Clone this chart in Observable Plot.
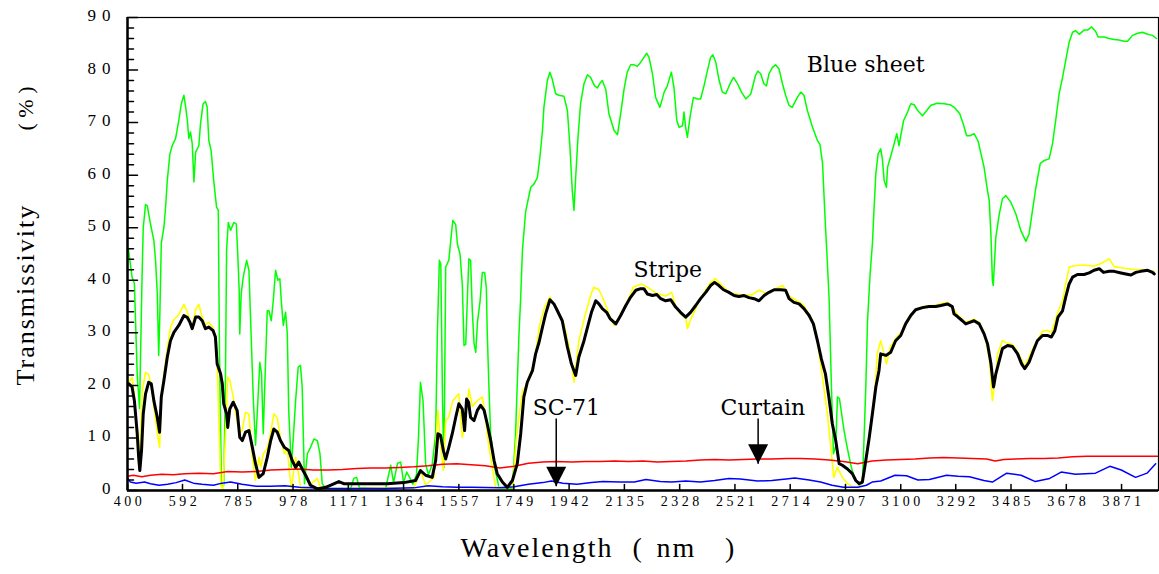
<!DOCTYPE html>
<html><head><meta charset="utf-8">
<script src="https://cdn.jsdelivr.net/npm/d3@7"></script>
<script src="https://cdn.jsdelivr.net/npm/@observablehq/plot@0.6"></script>
<style>body{margin:0;background:#fff} svg{display:block}</style>
</head><body><div id="chart"></div>
<script>
// ---- tick labels ----
const xTicks = [400,592,785,978,1171,1364,1557,1749,1942,2135,2328,2521,2714,2907,3100,3292,3485,3678,3871];
const yMajor = [0,10,20,30,40,50,60,70,80,90];
const yMinor = [2,4,6,8,12,14,16,18,22,24,26,28,32,34,36,38,42,44,46,48,52,54,56,58,62,64,66,68,72,74,76,78,82,84,86,88];

// ---- series: [wavelength nm, transmissivity %] ----
const blueSheet = [[403,46],[416,40.6],[424,39.4],[434,22],[442,15.6],[451,41],[455,50],[463,54.4],[469,54.2],[480,50.8],[492,47.6],[498,43.8],[504,37.5],[509,25.7],[513,33.7],[518,47],[527,50],[533,53.9],[539,59],[548,64],[556,65.6],[568,67],[579,70.4],[588,73.6],[597,75.2],[603,73],[609,70.4],[614,67],[620,68.2],[626,66],[632,58.7],[638,64.4],[649,65.6],[655,69.8],[664,73.6],[672,74],[678,73],[684,66.6],[692,64.7],[701,59],[711,53.9],[717,53.3],[721,27.3],[728,1],[736,1],[742,21],[746,45.7],[752,51],[760,49.5],[771,51],[780,50.7],[785,45],[790,38],[792,29.8],[797,37.4],[804,40.6],[816,43.8],[824,41.9],[830,32.3],[839,17.8],[847,8.6],[853,14.6],[862,24.4],[868,22.2],[874,10.8],[880,21],[888,34.2],[894,34.2],[902,32.3],[909,36.1],[917,41.9],[925,40],[932,40.3],[937,36.1],[944,31.4],[952,33.9],[958,29.8],[963,15.2],[972,4.4],[979,10.1],[987,17.1],[996,23.5],[1004,23.8],[1010,19.7],[1018,1.3],[1028,7],[1039,8.2],[1051,9.8],[1063,9.5],[1072,7],[1080,1.3],[1092,0.3],[1179,0.3],[1190,2.3],[1200,2.5],[1210,0.5],[1301,0.3],[1319,4.8],[1329,1.5],[1343,5.2],[1354,5.4],[1364,1.5],[1375,3.5],[1385,2.5],[1396,1.2],[1409,3],[1416,10],[1423,20.6],[1432,17],[1441,5],[1451,3],[1464,5],[1476,10.8],[1482,29.8],[1489,43.8],[1494,43],[1500,17],[1505,4.4],[1511,42.5],[1522,43.8],[1531,48.8],[1536,51.4],[1546,50.6],[1552,46.9],[1561,45],[1569,39.3],[1575,27.6],[1581,27.8],[1587,37],[1592,44.1],[1598,43.8],[1604,34.2],[1610,28],[1616,26.3],[1622,32],[1631,36],[1639,41.5],[1647,41.5],[1653,38.5],[1656,30.4],[1662,19.7],[1668,10.8],[1680,5],[1697,0.6],[1744,0.3],[1755,10.8],[1767,29.8],[1773,36.8],[1779,45.7],[1790,53],[1808,57.7],[1819,58.3],[1831,59.5],[1840,63.4],[1849,68.5],[1854,72.9],[1866,78],[1875,79.6],[1883,78.3],[1895,75.5],[1906,75.2],[1924,75],[1936,72.3],[1945,65.3],[1953,57.1],[1959,53.3],[1965,59.6],[1973,67.2],[1982,73.6],[1994,77.4],[2006,79.1],[2017,78.6],[2031,77],[2041,76.6],[2050,77.5],[2058,78],[2070,76.3],[2081,71.7],[2099,68.5],[2111,67.7],[2122,71.7],[2134,76.4],[2145,79.6],[2157,81],[2169,81],[2180,80.7],[2192,81.5],[2213,83.2],[2221,82.4],[2233,79.3],[2244,74.8],[2259,72.9],[2274,75.8],[2285,77],[2299,79.6],[2308,76.7],[2318,70.4],[2326,69.1],[2338,69.4],[2343,72],[2349,69.1],[2355,67.2],[2364,71],[2376,74.8],[2390,74.5],[2401,74.5],[2413,77],[2425,79.9],[2436,82.4],[2444,82.9],[2454,81.5],[2466,78],[2477,75.8],[2489,75.5],[2504,77.4],[2516,78.6],[2530,77.4],[2544,75.8],[2559,74.5],[2576,75.4],[2593,79],[2601,79.8],[2611,79.3],[2622,77.4],[2631,77],[2640,79.3],[2652,80.5],[2663,81],[2675,80.2],[2687,77.4],[2698,75.2],[2710,73.3],[2721,72.9],[2739,74.8],[2751,75.8],[2762,75.2],[2774,72.3],[2792,69.1],[2809,66.6],[2818,65.8],[2827,62.2],[2835,52.6],[2844,43.1],[2850,36.1],[2858,19.7],[2865,7],[2873,8.5],[2879,17.8],[2886,17.5],[2892,15.2],[2902,11.4],[2913,8.2],[2925,5],[2937,2.5],[2955,1],[2966,1.5],[2972,10.1],[2978,19.7],[2984,32.3],[2993,41.2],[3001,46.9],[3007,53.9],[3013,60.3],[3021,64.1],[3030,65],[3036,63],[3042,59],[3050,57.7],[3054,61.5],[3064,63.4],[3077,66],[3086,67.9],[3094,65.6],[3100,67.5],[3110,70.4],[3124,72],[3135,73.6],[3147,73.4],[3159,72.3],[3176,71.3],[3188,72.1],[3205,73.3],[3228,73.7],[3252,73.6],[3272,73.4],[3289,72.8],[3306,71.7],[3318,69.8],[3330,67.5],[3341,67.5],[3356,67.9],[3370,66.5],[3380,64.1],[3391,61.5],[3403,57],[3409,55.2],[3415,48.5],[3420,40],[3423,39],[3432,48.2],[3444,52.6],[3455,55.5],[3467,56.1],[3484,54.9],[3502,52.6],[3519,49.5],[3537,47.4],[3548,48.8],[3560,53.3],[3572,57.7],[3587,62.2],[3601,62.8],[3618,63.1],[3630,66],[3641,70.4],[3653,75.5],[3665,78.6],[3676,81.8],[3688,85.3],[3700,87.2],[3711,87.5],[3723,86.8],[3740,87.6],[3752,87.6],[3767,88.2],[3781,87.3],[3789,86.3],[3810,86.3],[3828,86],[3845,85.8],[3862,85.7],[3880,85.5],[3892,85.5],[3909,86.6],[3927,87],[3944,87.2],[3962,86.8],[3979,86.6],[3993,86]];

const stripeRaw = [[403,20.5],[416,21.5],[424,18],[434,9],[440,4.5],[445,10],[452,19],[463,22.5],[474,22],[483,20],[492,16],[504,11],[512,8.2],[518,18],[527,22],[539,27],[550,31],[562,32.5],[579,33.5],[597,35.4],[609,34],[618,32],[626,31],[638,34.5],[649,35.4],[661,33],[672,31.5],[684,32],[699,31],[707,29],[713,24],[721,10],[726,1],[733,0.3],[740,8],[746,16],[750,21.6],[757,21],[769,17.9],[780,14],[790,11],[801,11.5],[812,14.9],[824,14.5],[836,6.3],[847,1.9],[859,6.3],[866,4.5],[874,7],[888,8],[900,11],[911,14.6],[923,13.8],[934,10],[948,7],[958,8],[965,3.8],[972,0.5],[987,6.3],[998,3],[1004,0.5],[1022,0.3],[1063,2.3],[1075,0.3],[1400,0.5],[1423,3.8],[1441,1],[1470,2.5],[1484,15.2],[1493,9],[1503,3.8],[1511,13.3],[1522,14],[1536,17.1],[1557,18.4],[1569,10.1],[1577,12],[1592,19.3],[1604,16],[1622,17.1],[1639,17.8],[1650,14],[1660,9],[1674,4.4],[1685,0.6],[1745,0.6],[1757,9.5],[1767,13.9],[1779,19],[1790,19.7],[1819,24.1],[1840,31.7],[1857,34.9],[1875,36.8],[1900,34.5],[1924,31.7],[1943,27],[1959,20.6],[1976,28.5],[1999,33.6],[2017,37.1],[2028,38.7],[2046,38.2],[2064,36.1],[2085,33],[2099,31.4],[2122,33.5],[2150,36.5],[2166,38.7],[2195,39.3],[2215,38.7],[2248,37.5],[2279,37],[2300,37.7],[2314,35],[2331,33.6],[2349,33],[2355,30.8],[2366,32.5],[2400,36.5],[2436,39.6],[2453,40.3],[2480,38.8],[2506,37.5],[2540,37.3],[2580,37.2],[2605,38.1],[2630,37.5],[2665,38.5],[2688,39],[2710,37],[2740,36],[2760,35.3],[2790,32.5],[2810,28],[2825,22.2],[2844,14.6],[2858,7],[2866,2.5],[2879,4.4],[2896,2.5],[2914,1.3],[2937,0.6],[2955,0.6],[2972,3.2],[2990,10.1],[3007,16.5],[3018,26],[3030,28.5],[3042,26],[3050,24.1],[3064,27.3],[3086,29.2],[3100,30],[3135,33.6],[3176,35],[3222,35.3],[3263,35.8],[3280,35],[3298,33.4],[3327,32],[3356,32.6],[3374,32],[3391,30],[3410,25],[3420,17.1],[3432,22],[3438,26],[3455,28.5],[3473,28],[3490,27.8],[3508,26.4],[3533,23.6],[3563,27.2],[3595,30.3],[3612,30.5],[3626,30],[3649,34],[3665,36.1],[3676,39.3],[3688,42.5],[3710,42.8],[3740,42.9],[3775,42.7],[3800,43.2],[3828,44.1],[3845,42.6],[3880,42.3],[3920,42],[3960,42],[3985,41.6]];

const stripe = [[405,20.3],[416,19.7],[424,17.1],[434,10.8],[439,6.3],[443,3.8],[449,7.6],[455,14.6],[463,18.4],[474,20.6],[483,20.3],[492,17.1],[504,13.9],[512,11.1],[518,17.8],[527,20.9],[539,25.4],[550,28.5],[562,30.1],[579,31.4],[597,33.3],[609,32.9],[618,32],[626,30.8],[638,33],[649,33],[661,32.3],[672,30.8],[684,31.1],[699,30.4],[707,29.2],[713,24.1],[725,22.2],[731,20.3],[736,16.5],[746,14.6],[750,12],[757,15.5],[769,16.8],[783,15.2],[792,10.1],[801,9.5],[812,11.1],[824,11.4],[836,8.2],[847,5.1],[859,2.5],[874,3.2],[888,6.3],[900,9.5],[911,11.7],[923,11.1],[934,9.5],[948,8.2],[963,7.6],[975,5.7],[987,4.4],[998,5.4],[1010,4.1],[1022,2.9],[1039,1],[1063,0.3],[1092,0.6],[1138,1.7],[1155,1.3],[1190,1.3],[1249,1.3],[1307,1.3],[1365,1.5],[1406,1.9],[1423,3.8],[1441,2.9],[1464,2.5],[1476,5.7],[1484,10.8],[1493,10.5],[1503,7.6],[1511,6],[1522,8.2],[1534,10.8],[1546,13.9],[1557,16.5],[1569,15.5],[1577,11.4],[1584,17.4],[1591,16.8],[1598,13.9],[1610,13.3],[1622,15.3],[1633,16.2],[1645,15.3],[1656,12.7],[1668,9.5],[1680,5.7],[1691,3.2],[1709,1.6],[1726,0.6],[1744,1.9],[1761,5.1],[1773,10.8],[1784,17.8],[1796,20.6],[1814,22.8],[1825,26],[1837,28.2],[1849,31.1],[1860,33.6],[1875,36.3],[1889,35.5],[1901,34.2],[1918,32.3],[1936,27.3],[1950,24.1],[1965,21.9],[1976,25.4],[1994,28.5],[2008,31.4],[2020,33.9],[2035,36.1],[2046,35.5],[2058,34.6],[2073,33.9],[2085,32.7],[2105,31.7],[2122,33.3],[2140,35.2],[2157,36.8],[2175,38.1],[2192,38.4],[2203,38.4],[2215,37.4],[2233,37.1],[2248,37.3],[2262,36.5],[2279,36.1],[2297,36.3],[2314,34.9],[2331,33.9],[2349,33],[2366,33.9],[2384,35.2],[2401,36.5],[2419,37.7],[2436,39],[2450,39.6],[2465,39],[2481,38.2],[2500,37.7],[2518,37.1],[2535,36.9],[2553,37.1],[2570,36.7],[2588,36.5],[2605,36.1],[2623,37.1],[2640,37.7],[2658,38.2],[2681,38.2],[2698,38.1],[2710,36.5],[2727,35.8],[2745,35.5],[2762,34.6],[2780,33.3],[2795,31.7],[2809,28.5],[2823,25],[2837,22.2],[2849,17.8],[2861,12.7],[2873,9.5],[2885,5.1],[2896,4.8],[2914,4.1],[2931,3.2],[2943,1.9],[2955,1.3],[2966,1.6],[2978,5.7],[2990,10.1],[3001,14.6],[3013,19.7],[3024,22.8],[3030,26],[3048,25.7],[3065,26.3],[3082,28.5],[3100,29.5],[3117,31.7],[3135,33.3],[3152,34.4],[3176,34.8],[3199,35],[3222,35],[3240,35.2],[3263,35.5],[3280,35],[3286,33.6],[3298,33.1],[3315,32.3],[3327,31.7],[3341,32],[3356,32.3],[3374,31.7],[3391,29.8],[3403,27.9],[3415,24.1],[3424,19.7],[3432,22.2],[3444,24.7],[3455,27],[3473,27.6],[3490,27.4],[3508,26],[3522,24.1],[3533,23.2],[3548,24.4],[3563,26.6],[3577,28.5],[3595,29.5],[3612,29.5],[3626,29.2],[3638,30.4],[3649,33],[3665,34.2],[3676,36.8],[3688,39.3],[3700,40.6],[3717,41.1],[3740,41.1],[3758,41.4],[3775,41.9],[3793,42.2],[3808,41.5],[3828,41.7],[3845,41.7],[3869,41.4],[3886,41.2],[3904,41],[3921,41.5],[3938,41.7],[3962,41.9],[3979,41.5],[3985,41.2]];

const curtain = [[400,2.7],[420,2.9],[450,2.6],[480,2.9],[520,3.1],[560,3.0],[600,3.2],[650,3.3],[700,3.2],[750,3.6],[800,3.5],[850,3.6],[900,3.9],[950,4.0],[1000,4.1],[1050,3.9],[1100,3.9],[1150,4.0],[1200,4.2],[1250,4.3],[1300,4.3],[1350,4.4],[1400,4.5],[1450,4.7],[1500,5.0],[1550,5.1],[1600,4.9],[1650,4.7],[1700,4.3],[1750,4.6],[1800,5.2],[1850,5.4],[1900,5.5],[1950,5.4],[2000,5.5],[2050,5.5],[2100,5.6],[2150,5.5],[2200,5.6],[2250,5.4],[2300,5.5],[2350,5.6],[2400,5.8],[2450,5.9],[2500,5.8],[2550,5.9],[2600,6.0],[2650,6.0],[2700,6.1],[2750,6.1],[2800,6.0],[2850,5.8],[2900,5.5],[2950,5.1],[3000,5.6],[3050,5.8],[3100,5.9],[3150,6.0],[3200,6.2],[3250,6.3],[3300,6.2],[3350,6.1],[3400,6.0],[3430,5.6],[3460,5.9],[3500,6.0],[3550,6.1],[3600,6.1],[3650,6.2],[3700,6.4],[3750,6.5],[3800,6.5],[3900,6.5],[4000,6.5]];

const sc71 = [[400,2.4],[410,1.6],[430,1.4],[460,1.6],[480,1.3],[510,1.0],[540,1.2],[570,1.5],[600,2.0],[630,1.4],[660,1.2],[700,1.0],[730,1.4],[760,1.6],[800,1.2],[850,0.8],[900,0.8],[950,0.9],[1000,0.6],[1100,0.4],[1200,0.4],[1300,0.4],[1400,0.5],[1450,0.9],[1500,0.7],[1550,0.6],[1600,0.6],[1700,0.5],[1750,0.7],[1800,1.2],[1850,1.5],[1880,1.8],[1920,1.4],[1970,1.2],[2020,1.5],[2060,1.7],[2120,1.6],[2170,1.6],[2210,2.1],[2260,1.7],[2300,1.6],[2350,1.8],[2400,1.6],[2450,1.9],[2500,2.3],[2540,2.2],[2600,1.8],[2650,1.9],[2700,2.2],[2730,2.4],[2780,2.0],[2820,1.6],[2860,1.0],[2900,0.6],[2950,0.6],[2980,1.0],[3000,1.6],[3030,1.8],[3080,2.9],[3120,2.8],[3160,2.0],[3200,2.1],[3260,2.9],[3300,2.7],[3340,2.6],[3390,1.9],[3420,1.6],[3470,3.3],[3520,2.9],[3570,1.7],[3620,2.3],[3660,3.5],[3710,3.1],[3780,3.3],[3830,4.6],[3870,3.9],[3920,2.5],[3960,3.3],[3990,5.1]];

// ---- annotations ----
const noteText = ["Blue sheet","Stripe","SC-71","Curtain"];
const noteNm   = [2772, 2167, 1815, 2471];
const notePct  = [80.9, 42, 15.8, 15.8];
const arrowNm   = [1897, 2602];
const arrowFrom = [13.7, 13.7];
const arrowTo   = [0.8, 5.1];

const notes = noteText.map((t,i)=>({t, x:noteNm[i], y:notePct[i]}));
const arrows = arrowNm.map((x,i)=>({x, y1:arrowFrom[i], y2:arrowTo[i]}));

const SERIF = "'Liberation Serif','Times New Roman',serif";
const NOTE = "'DejaVu Serif',serif";
const spike = {draw(ctx, l){ ctx.moveTo(0,0); ctx.lineTo(0,-l); }};
const headDown = {draw(ctx, size){ const r = Math.sqrt(size/Math.PI); ctx.moveTo(0,0); ctx.lineTo(-r,-1.95*r); ctx.lineTo(r,-1.95*r); ctx.closePath(); }};
const X = d=>d[0], Y = d=>d[1];

const chart = Plot.plot({
  width:1159, height:574,
  marginLeft:127, marginRight:1, marginTop:17, marginBottom:84,
  x:{domain:[400,4000], axis:null},
  y:{domain:[0,90], axis:null},
  style:{background:"white", fontFamily:SERIF, color:"black"},
  marks:[
    Plot.line(blueSheet,{x:X,y:Y,stroke:"#00ff00",strokeWidth:1.5}),
    Plot.line(stripeRaw,{x:X,y:Y,stroke:"#ffff00",strokeWidth:1.6}),
    Plot.line(curtain,{x:X,y:Y,stroke:"#ff0000",strokeWidth:1.5}),
    Plot.line(sc71,{x:X,y:Y,stroke:"#0000ff",strokeWidth:1.5}),
    Plot.line(stripe,{x:X,y:Y,stroke:"#000000",strokeWidth:3}),
    Plot.frame({stroke:"black",strokeWidth:1.2}),
    Plot.ruleX([400],{stroke:"black",strokeWidth:2.5}),
    Plot.ruleY([0],{stroke:"black",strokeWidth:2.5}),
    Plot.vector(yMinor,{frameAnchor:"left",y:d=>d,rotate:90,length:6,anchor:"start",shape:spike,stroke:"black",strokeWidth:1.5}),
    Plot.vector(yMajor,{frameAnchor:"left",y:d=>d,rotate:90,length:10,anchor:"start",shape:spike,stroke:"black",strokeWidth:1.5}),
    Plot.vector(xTicks,{frameAnchor:"bottom",x:d=>d,rotate:0,length:6,anchor:"start",shape:spike,stroke:"black",strokeWidth:1.5}),
    Plot.text(yMajor,{frameAnchor:"left",y:d=>d,text:d=>String(d),textAnchor:"end",dx:-11,dy:-2,fontSize:17,fill:"black"}),
    Plot.text(xTicks,{frameAnchor:"bottom",x:d=>d,text:d=>String(d),textAnchor:"middle",dx:2,dy:15,fontSize:14,fill:"black"}),
    Plot.text(["Wavelength"],{frameAnchor:"bottom",text:d=>d,textAnchor:"start",dx:-182.5,dy:66,fontSize:28,fill:"black"}),
    Plot.text(["("],{frameAnchor:"bottom",text:d=>d,textAnchor:"start",dx:-10.5,dy:66,fontSize:28,fill:"black"}),
    Plot.text(["nm"],{frameAnchor:"bottom",text:d=>d,textAnchor:"start",dx:13.5,dy:66,fontSize:28,fill:"black"}),
    Plot.text([")"],{frameAnchor:"bottom",text:d=>d,textAnchor:"start",dx:82,dy:66,fontSize:28,fill:"black"}),
    Plot.text(["Transmissivity"],{frameAnchor:"left",text:d=>d,textAnchor:"start",rotate:-90,dx:-102,dy:131.5,fontSize:26,fill:"black"}),
    Plot.text(["( % )"],{frameAnchor:"left",text:d=>d,textAnchor:"start",rotate:-90,dx:-102,dy:-123.5,fontSize:22,fill:"black"}),
    Plot.text(notes,{x:"x",y:"y",text:"t",textAnchor:"start",fontSize:22,fontFamily:NOTE,fill:"black"}),
    Plot.link(arrows,{x1:"x",x2:"x",y1:"y1",y2:"y2",stroke:"black",strokeWidth:1.5}),
    Plot.dot(arrows,{x:"x",y:"y2",symbol:headDown,r:10,fill:"black",stroke:"none"})
  ]
});
const sp = [["17","6px"],["14","3.5px"],["28","2px"],["26","2px"]];
for (const [fs, ls] of sp) d3.select(chart).selectAll(`g[font-size="${fs}"]`).attr("letter-spacing", ls);
document.getElementById("chart").appendChild(chart);
</script>
</body></html>
